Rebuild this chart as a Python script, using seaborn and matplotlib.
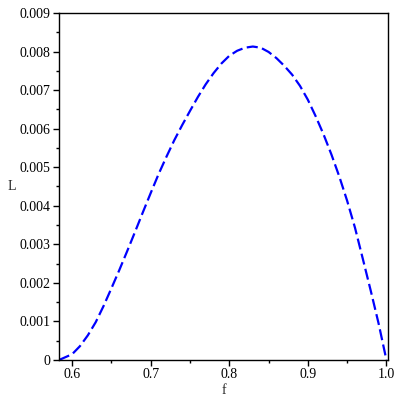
import matplotlib
matplotlib.use("Agg")
import matplotlib.pyplot as plt
from matplotlib.ticker import MultipleLocator, FixedLocator
import pandas as pd
import seaborn as sns

# values
f_vals = [0.5833, 0.59, 0.60, 0.61, 0.62, 0.63, 0.64, 0.65, 0.66, 0.67, 0.68,
          0.69, 0.70, 0.71, 0.72, 0.73, 0.74, 0.75, 0.76, 0.77, 0.78, 0.79,
          0.80, 0.81, 0.82, 0.83, 0.84, 0.85, 0.86, 0.87, 0.88, 0.89, 0.90,
          0.91, 0.92, 0.93, 0.94, 0.95, 0.96, 0.97, 0.98, 0.99, 1.0]
L_vals = [0.0, 0.00006, 0.00015, 0.00036, 0.00064, 0.00098, 0.0014, 0.00186,
          0.00233, 0.00282, 0.00332, 0.00383, 0.00433, 0.00482, 0.00527, 0.0057,
          0.00609, 0.00646, 0.00682, 0.00715, 0.00744, 0.00769, 0.00789, 0.00802,
          0.0081, 0.00813, 0.0081, 0.00799, 0.00783, 0.00763, 0.0074, 0.00711,
          0.00675, 0.00632, 0.00585, 0.00533, 0.00476, 0.00413, 0.00343, 0.00262,
          0.0018, 0.00095, 0.0]

x_ticks = [0.6, 0.7, 0.8, 0.9, 1.0]
x_ticklabels = ["0.6", "0.7", "0.8", "0.9", "1.0"]
y_ticks = [0.0, 0.001, 0.002, 0.003, 0.004, 0.005, 0.006, 0.007, 0.008, 0.009]
y_ticklabels = ["0", "0.001", "0.002", "0.003", "0.004", "0.005", "0.006",
                "0.007", "0.008", "0.009"]

df = pd.DataFrame({"f": f_vals, "L": L_vals})

sns.set_style("ticks")
plt.rcParams["font.family"] = ["Liberation Serif", "DejaVu Serif"]

fig = plt.figure(figsize=(4, 4), dpi=100)
ax = fig.add_axes([0.1475, 0.1, 0.8225, 0.8675])

sns.lineplot(data=df, x="f", y="L", ax=ax, color="#0000ff", linewidth=1.6,
             sort=False, estimator=None)
ax.lines[0].set_dashes([5, 2])

ax.set_xlim(0.5833, 1.002)
ax.set_ylim(0, 0.009)
ax.xaxis.set_major_locator(FixedLocator(x_ticks))
ax.set_xticklabels(x_ticklabels)
ax.xaxis.set_minor_locator(MultipleLocator(0.05))
ax.yaxis.set_major_locator(FixedLocator(y_ticks))
ax.set_yticklabels(y_ticklabels)
ax.yaxis.set_minor_locator(MultipleLocator(0.0005))

ax.tick_params(axis="both", which="major", length=4, width=1, labelsize=10,
               color="black", labelcolor="black", pad=2)
ax.tick_params(axis="both", which="minor", length=2, width=1, color="black")

for sp in ax.spines.values():
    sp.set_visible(True)
    sp.set_color("black")
    sp.set_linewidth(1)

ax.set_xlabel("f", fontsize=10, labelpad=2)
ax.set_ylabel("L", fontsize=10, rotation=0, labelpad=6, va="center")

fig.savefig("out.png", dpi=100)
